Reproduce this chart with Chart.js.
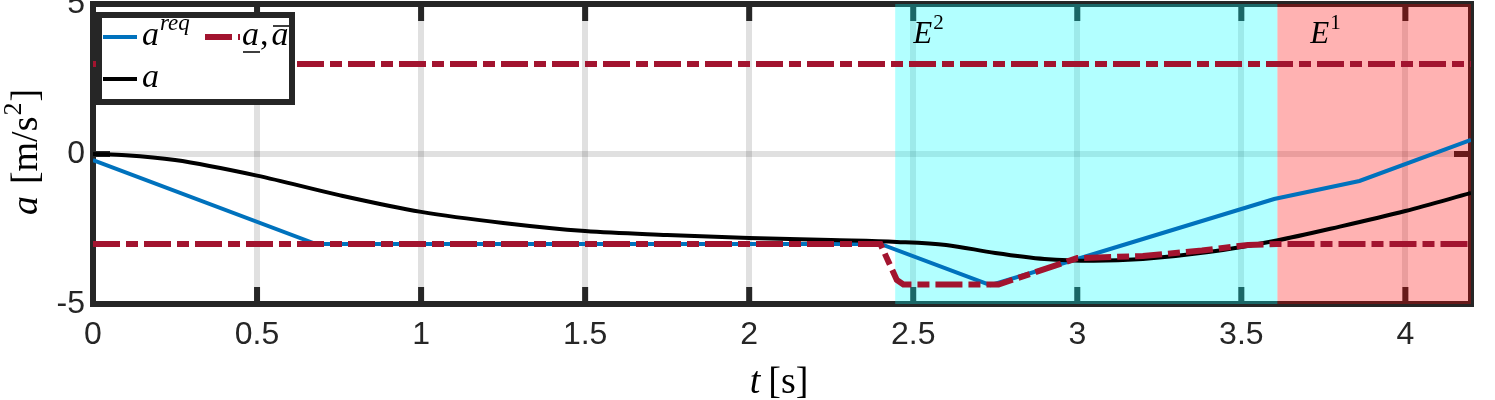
<!DOCTYPE html>
<html>
<head>
<meta charset="utf-8">
<script src="https://cdn.jsdelivr.net/npm/chart.js@4.4.1/dist/chart.umd.min.js"></script>
<style>
  html, body { margin: 0; padding: 0; background: #fff; }
  #wrap { width: 1495px; height: 400px; }
</style>
</head>
<body>
<div id="wrap"><canvas id="chart"></canvas></div>
<script>
  // requested acceleration a^req
  const tReq = [0, 0.68, 2.40, 2.735, 3.0, 3.3, 3.6, 3.86, 4.2];
  const aReq = [-0.2, -3, -3, -4.37, -3.5, -2.5, -1.5, -0.9, 0.47];

  // actual acceleration a
  const tA = [0, 0.1, 0.25, 0.5, 0.75, 1.0, 1.25, 1.5, 1.75, 2.0, 2.25, 2.45, 2.6, 2.75, 2.9, 3.05, 3.2, 3.4, 3.6, 3.8, 4.0, 4.2];
  const aA = [0, -0.04, -0.2, -0.72, -1.37, -1.93, -2.3, -2.57, -2.7, -2.8, -2.87, -2.93, -3.03, -3.3, -3.5, -3.56, -3.5, -3.27, -2.9, -2.42, -1.9, -1.3];

  // lower and upper bounds
  const tLo = [0, 2.40, 2.425, 2.45, 2.47, 2.76, 3.0, 3.2, 3.38, 3.52, 3.61, 4.2];
  const aLo = [-3, -3, -3.6, -4.2, -4.35, -4.35, -3.47, -3.4, -3.22, -3.03, -3, -3];
  const tUp = [0, 4.2];
  const aUp = [3, 3];

  // shaded zones
  const zoneStart = [2.445, 3.61];
  const zoneEnd = [3.61, 4.2];
  const zoneColors = ['rgba(0,255,255,0.3)', 'rgba(255,0,0,0.3)'];
  const zoneLabelT = [2.5, 3.71];
  const zoneSup = ['2', '1'];

  const pts = (xs, ys) => xs.map((x, i) => ({ x: x, y: ys[i] }));

  const serif = 'Liberation Serif';
  const dark = '#262626';

  function rich(ctx, parts, x, y, align) {
    let w = 0;
    parts.forEach(p => { ctx.font = p.f; w += ctx.measureText(p.t).width + (p.gap || 0); });
    let cx = align === 'center' ? x - w / 2 : x;
    parts.forEach(p => {
      ctx.font = p.f;
      ctx.fillText(p.t, cx, y + (p.dy || 0));
      cx += ctx.measureText(p.t).width + (p.gap || 0);
    });
  }

  const frame = {
    id: 'frame',
    beforeDatasetsDraw(chart) {
      const { ctx, chartArea: a, scales: { x, y } } = chart;
      ctx.save();
      ctx.strokeStyle = dark;
      ctx.lineWidth = 6;
      ctx.beginPath();
      x.ticks.forEach(t => {
        const px = x.getPixelForValue(t.value);
        ctx.moveTo(px, a.top); ctx.lineTo(px, a.top + 17);
        ctx.moveTo(px, a.bottom); ctx.lineTo(px, a.bottom - 17);
      });
      y.ticks.forEach(t => {
        const py = y.getPixelForValue(t.value);
        ctx.moveTo(a.left, py); ctx.lineTo(a.left + 17, py);
        ctx.moveTo(a.right, py); ctx.lineTo(a.right - 17, py);
      });
      ctx.stroke();
      ctx.strokeRect(a.left, a.top, a.right - a.left, a.bottom - a.top);
      zoneStart.forEach((s, i) => {
        const x0 = x.getPixelForValue(s);
        const x1 = x.getPixelForValue(zoneEnd[i]);
        ctx.fillStyle = zoneColors[i];
        ctx.fillRect(x0, a.top, x1 - x0, a.bottom - a.top);
      });
      ctx.restore();
    },
    afterDraw(chart) {
      const { ctx, scales: { x } } = chart;
      ctx.save();
      ctx.fillStyle = '#000';
      ctx.textBaseline = 'alphabetic';
      ctx.textAlign = 'left';

      // zone labels
      zoneLabelT.forEach((t, i) => {
        rich(ctx, [
          { t: 'E', f: 'italic 31px ' + serif, gap: 1 },
          { t: zoneSup[i], f: '21px ' + serif, dy: -14 }
        ], x.getPixelForValue(t), 43, 'left');
      });

      // axis titles
      rich(ctx, [
        { t: 't', f: 'italic 38px ' + serif, gap: 8 },
        { t: '[s]', f: '38px ' + serif }
      ], 779, 393, 'center');

      ctx.save();
      ctx.translate(37, 152);
      ctx.rotate(-Math.PI / 2);
      rich(ctx, [
        { t: 'a', f: 'italic 38px ' + serif, gap: 12 },
        { t: '[m/s', f: '38px ' + serif, gap: 1 },
        { t: '2', f: '26px ' + serif, dy: -16, gap: 1 },
        { t: ']', f: '38px ' + serif }
      ], 0, 0, 'center');
      ctx.restore();

      // legend box
      ctx.fillStyle = '#fff';
      ctx.fillRect(99, 15, 193, 87);
      ctx.strokeStyle = dark;
      ctx.lineWidth = 6;
      ctx.strokeRect(99, 15, 193, 87);

      const ds = chart.data.datasets;
      ctx.lineWidth = 4;
      ctx.strokeStyle = ds[0].borderColor;
      ctx.beginPath(); ctx.moveTo(103, 37); ctx.lineTo(137, 37); ctx.stroke();
      ctx.strokeStyle = ds[1].borderColor;
      ctx.beginPath(); ctx.moveTo(103, 79); ctx.lineTo(137, 79); ctx.stroke();
      ctx.strokeStyle = ds[2].borderColor;
      ctx.lineWidth = ds[2].borderWidth;
      ctx.setLineDash(ds[2].borderDash);
      ctx.beginPath(); ctx.moveTo(205, 37); ctx.lineTo(240, 37); ctx.stroke();
      ctx.setLineDash([]);

      ctx.fillStyle = '#000';
      rich(ctx, [
        { t: 'a', f: 'italic 34px ' + serif, gap: 1 },
        { t: 'req', f: 'italic 23px ' + serif, dy: -15 }
      ], 142, 45, 'left');
      rich(ctx, [{ t: 'a', f: 'italic 34px ' + serif }], 142, 87, 'left');
      rich(ctx, [
        { t: 'a', f: 'italic 34px ' + serif, gap: 1 },
        { t: ',', f: '34px ' + serif, gap: 3 },
        { t: 'a', f: 'italic 34px ' + serif }
      ], 242, 45, 'left');
      ctx.strokeStyle = '#000';
      ctx.lineWidth = 1.6;
      ctx.beginPath();
      ctx.moveTo(243, 52); ctx.lineTo(260, 52);
      ctx.moveTo(273, 26); ctx.lineTo(289, 26);
      ctx.stroke();
      ctx.restore();
    }
  };

  new Chart(
    document.getElementById('chart'),
    {
      type: 'line',
      data: {
        datasets: [
          { label: 'a^req', data: pts(tReq, aReq), borderColor: '#0072BD', borderWidth: 4, pointRadius: 0, order: 3 },
          { label: 'a', data: pts(tA, aA), borderColor: '#000000', borderWidth: 4, pointRadius: 0, cubicInterpolationMode: 'monotone', order: 2 },
          { label: 'lower', data: pts(tLo, aLo), borderColor: '#A2142F', borderWidth: 6, borderDash: [27, 6, 12, 6], pointRadius: 0, order: 1 },
          { label: 'upper', data: pts(tUp, aUp), borderColor: '#A2142F', borderWidth: 6, borderDash: [27, 6, 12, 6], pointRadius: 0, order: 1 }
        ]
      },
      options: {
        responsive: true,
        maintainAspectRatio: false,
        animation: false,
        layout: { padding: { top: 4, right: 24, left: 0, bottom: 0 } },
        plugins: { legend: { display: false }, tooltip: { enabled: false } },
        scales: {
          x: {
            type: 'linear', min: 0, max: 4.2,
            afterFit: s => { s.height = 96; s.paddingLeft = 0; s.paddingRight = 0; },
            grid: { color: 'rgba(0,0,0,0.12)', lineWidth: 6, drawTicks: false },
            border: { display: false },
            ticks: {
              stepSize: 0.5, includeBounds: false, padding: 12, maxRotation: 0, autoSkip: false,
              color: dark, font: { family: 'Liberation Sans', size: 32 },
              callback: v => String(Math.round(v * 10) / 10)
            }
          },
          y: {
            min: -5, max: 5,
            afterFit: s => { s.width = 93; s.paddingTop = 0; s.paddingBottom = 0; },
            grid: { color: 'rgba(0,0,0,0.12)', lineWidth: 6, drawTicks: false },
            border: { display: false },
            ticks: {
              stepSize: 5, padding: 8,
              color: dark, font: { family: 'Liberation Sans', size: 32 },
              callback: v => String(v)
            }
          }
        }
      },
      plugins: [frame]
    }
  );
</script>
</body>
</html>
